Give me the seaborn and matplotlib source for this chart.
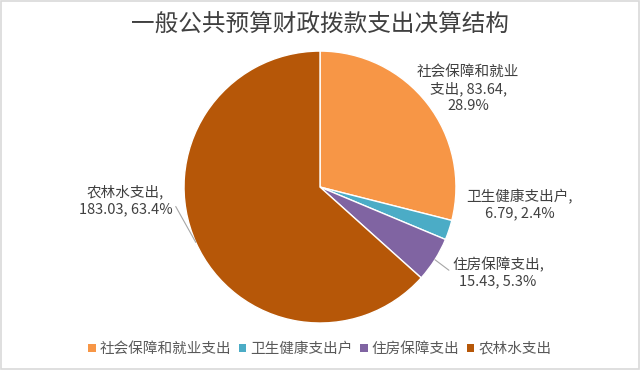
import numpy as np
import matplotlib.pyplot as plt
import seaborn as sns
from matplotlib.patches import Patch, Rectangle

sns.set_theme(style="white")
plt.rcParams['font.family'] = ['Noto Sans CJK SC', 'DejaVu Sans']

# data
categories = ['社会保障和就业支出', '卫生健康支出户', '住房保障支出', '农林水支出']
values = [83.64, 6.79, 15.43, 183.03]
label_texts = ['社会保障和就业\n支出, 83.64,\n28.9%',
               '卫生健康支出户,\n6.79, 2.4%',
               '住房保障支出,\n15.43, 5.3%',
               '农林水支出,\n183.03, 63.4%']
colors = ['#F79646', '#4BACC6', '#8064A2', '#B65708']
title = '一般公共预算财政拨款支出决算结构'

fig = plt.figure(figsize=(6.4, 3.72), dpi=100)
fig.patch.set_facecolor('white')
ax = fig.add_axes([0.2875, 0.1317, 0.425, 0.731])

wedges, _ = ax.pie(values, colors=colors, startangle=90, counterclock=False,
                   wedgeprops=dict(edgecolor='white', linewidth=1))
ax.set_xlim(-1, 1)
ax.set_ylim(-1, 1)
ax.set_aspect('equal')

# label placement (data units, pie radius = 1)
label_pos = [(1.09, 0.72), (1.47, -0.13), (1.31, -0.63), (-1.43, -0.10)]
leader = [False, False, True, True]
txt_color = '#404040'
for w, txt, pos, ld in zip(wedges, label_texts, label_pos, leader):
    mid = np.deg2rad((w.theta1 + w.theta2) / 2)
    edge = (np.cos(mid), np.sin(mid))
    if ld:
        rel = (0, 0.5) if pos[0] > 0 else (1, 0.5)
        ax.annotate(txt, xy=edge, xytext=pos, ha='center', va='center',
                    fontsize=10.5, color=txt_color, linespacing=1.25,
                    annotation_clip=False,
                    arrowprops=dict(arrowstyle='-', color='#a6a6a6', lw=0.8,
                                    shrinkA=0, shrinkB=0, relpos=rel))
    else:
        ax.text(pos[0], pos[1], txt, ha='center', va='center', fontsize=10.5,
                color=txt_color, linespacing=1.25)

fig.text(0.5, 0.935, title, ha='center', va='center', fontsize=17,
         color='#404040', fontweight='medium')

handles = [Patch(facecolor=c, edgecolor='none') for c in colors]
fig.legend(handles, categories, loc='center', bbox_to_anchor=(0.5, 0.062),
           ncol=4, frameon=False, fontsize=10.5, handlelength=0.5, handleheight=0.5,
           handletextpad=0.3, columnspacing=0.5, labelcolor='#595959')

fig.patches.append(Rectangle((0.002, 0.008), 0.996, 0.988, transform=fig.transFigure,
                             fill=False, edgecolor='#d9d9d9', linewidth=1.2))

fig.savefig('out.png', dpi=100)
